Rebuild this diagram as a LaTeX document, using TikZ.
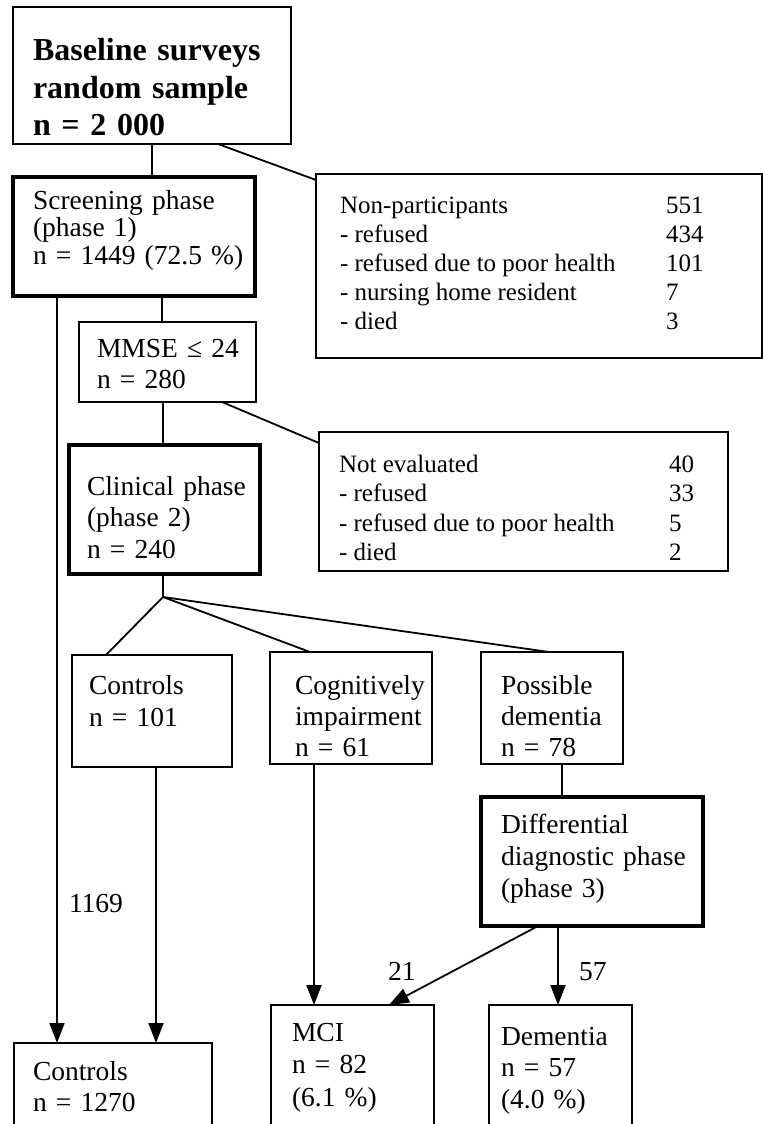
\documentclass[tikz,border=0pt]{standalone}
\usepackage{fontspec}
\setmainfont{Liberation Serif}
\usetikzlibrary{arrows.meta,fit}
\newcommand\fbig{\fontsize{16}{18.5}\selectfont\bfseries}
\newcommand\fmain[1]{\fontsize{13.75}{#1}\selectfont}
\newcommand\fside[1]{\fontsize{12.5}{#1}\selectfont}
\begin{document}
\begin{tikzpicture}[x=0.5pt,y=-0.5pt,
  thinbox/.style={draw, line width=1pt, inner sep=0pt, outer sep=0pt},
  thickbox/.style={draw, line width=2.4pt, inner sep=0pt, outer sep=0pt},
  txt/.style={anchor=base west, inner sep=0pt, outer sep=0pt, align=left},
  conn/.style={line width=0.9pt},
  arr/.style={conn, -{Triangle[length=10pt,width=7.5pt]}},
  lbl/.style={inner sep=0pt, outer sep=0pt, font=\fmain{15pt}}]
\useasboundingbox (0,0) rectangle (763,1124);
\clip (0,0) rectangle (763,1124);
\fill[white] (0,0) rectangle (763,1124);

% boxes
\node[thinbox,  fit={(13,7) (291,144)}] (top) {};
\node[thickbox, fit={(13,177) (255,296)}] (scr) {};
\node[thinbox,  fit={(316,174) (762,358)}] (np) {};
\node[thinbox,  fit={(79,322) (256,402)}] (mmse) {};
\node[thinbox,  fit={(319,432) (728,571)}] (ne) {};
\node[thickbox, fit={(69,445) (260,574)}] (clin) {};
\node[thinbox,  fit={(72,655) (232,767)}] (ctrl) {};
\node[thinbox,  fit={(270,652) (432,764)}] (cog) {};
\node[thinbox,  fit={(481,652) (623,764)}] (poss) {};
\node[thickbox, fit={(481,797) (703,926)}] (diff) {};
\node[thinbox,  fit={(271,1005) (434,1140)}] (mci) {};
\node[thinbox,  fit={(489,1005) (632,1140)}] (dem) {};
\node[thinbox,  fit={(14,1043) (212,1140)}] (ctrlb) {};

% texts
\node[txt, text width=125pt, font=\fbig] (top-t) at (33,61) {Baseline surveys\\random sample\\n = 2 000};
\node[txt, text width=110pt, font=\fmain{13.75pt}] (scr-t) at (33,209) {Screening phase\\(phase 1)\\n = 1449 (72.5 \%)};
\node[txt, font=\fside{14.5pt}] (np-t) at (340,213) {\begin{tabular}[t]{@{}p{163pt}@{}l@{}}
Non-participants & 551\\
- refused & 434\\
- refused due to poor health & 101\\
- nursing home resident & 7\\
- died & 3
\end{tabular}};
\node[txt, text width=80pt, font=\fmain{15.5pt}] (mmse-t) at (97,357) {MMSE ≤ 24\\n = 280};
\node[txt, font=\fside{14.8pt}] (ne-t) at (339,472) {\begin{tabular}[t]{@{}p{165pt}@{}l@{}}
Not evaluated & 40\\
- refused & 33\\
- refused due to poor health & 5\\
- died & 2
\end{tabular}};
\node[txt, text width=85pt, font=\fmain{15.75pt}] (clin-t) at (87,495) {Clinical phase\\(phase 2)\\n = 240};
\node[txt, text width=70pt, font=\fmain{16pt}] (ctrl-t) at (89,694) {Controls\\n = 101};
\node[txt, text width=68pt, font=\fmain{15.5pt}] (cog-t) at (295,694) {Cognitively\\impairment\\n = 61};
\node[txt, text width=60pt, font=\fmain{15.5pt}] (poss-t) at (501,694) {Possible\\dementia\\n = 78};
\node[txt, text width=100pt, font=\fmain{16pt}] (diff-t) at (501,833) {Differential\\diagnostic phase\\(phase 3)};
\node[txt, text width=70pt, font=\fmain{16.25pt}] (mci-t) at (292,1041) {MCI\\n = 82\\(6.1 \%)};
\node[txt, text width=62pt, font=\fmain{15.75pt}] (dem-t) at (501,1045) {Dementia\\n = 57\\(4.0 \%)};
\node[txt, text width=85pt, font=\fmain{15.5pt}] (ctrlb-t) at (33,1080) {Controls\\n = 1270};

% connectors
\coordinate (fan) at (163,597);
\draw[conn] ([xshift=69.5pt]top.south west) -- ([xshift=69.5pt]scr.north west);
\draw[conn] ([xshift=102.5pt]top.south west) -- ([yshift=-3pt]np.north west);
\draw[conn] ([xshift=74.5pt]scr.south west) -- ([xshift=41.5pt]mmse.north west);
\draw[conn] ([xshift=42pt]mmse.south west) -- ([xshift=47pt]clin.north west);
\draw[conn] ([xshift=71.5pt]mmse.south west) -- ([yshift=-5.5pt]ne.north west);
\draw[conn] ([xshift=47pt]clin.south west) -- (fan);
\draw[conn] (fan) -- ([xshift=17pt]ctrl.north west);
\draw[conn] (fan) -- ([xshift=20pt]cog.north west);
\draw[conn] (fan) -- ([xshift=34pt]poss.north west);
\draw[arr] ([xshift=22pt]scr.south west) -- node[lbl, pos=0.813, anchor=west, xshift=6pt] (l1169) {1169} ([xshift=21.5pt]ctrlb.north west);
\draw[arr] ([xshift=42pt]ctrl.south west) -- ([xshift=71pt]ctrlb.north west);
\draw[arr] ([xshift=22pt]cog.south west) -- ([xshift=21.5pt]mci.north west);
\draw[conn] ([xshift=40.5pt]poss.south west) -- ([xshift=40.5pt]diff.north west);
\draw[arr] ([xshift=28.5pt]diff.south west) -- node[lbl, pos=0.58, anchor=east, xshift=-18pt] (l21) {21} ([xshift=59pt]mci.north west);
\draw[arr] ([xshift=38.5pt]diff.south west) -- node[lbl, pos=0.58, anchor=west, xshift=10.5pt] (l57) {57} ([xshift=34.5pt]dem.north west);
\end{tikzpicture}
\end{document}
